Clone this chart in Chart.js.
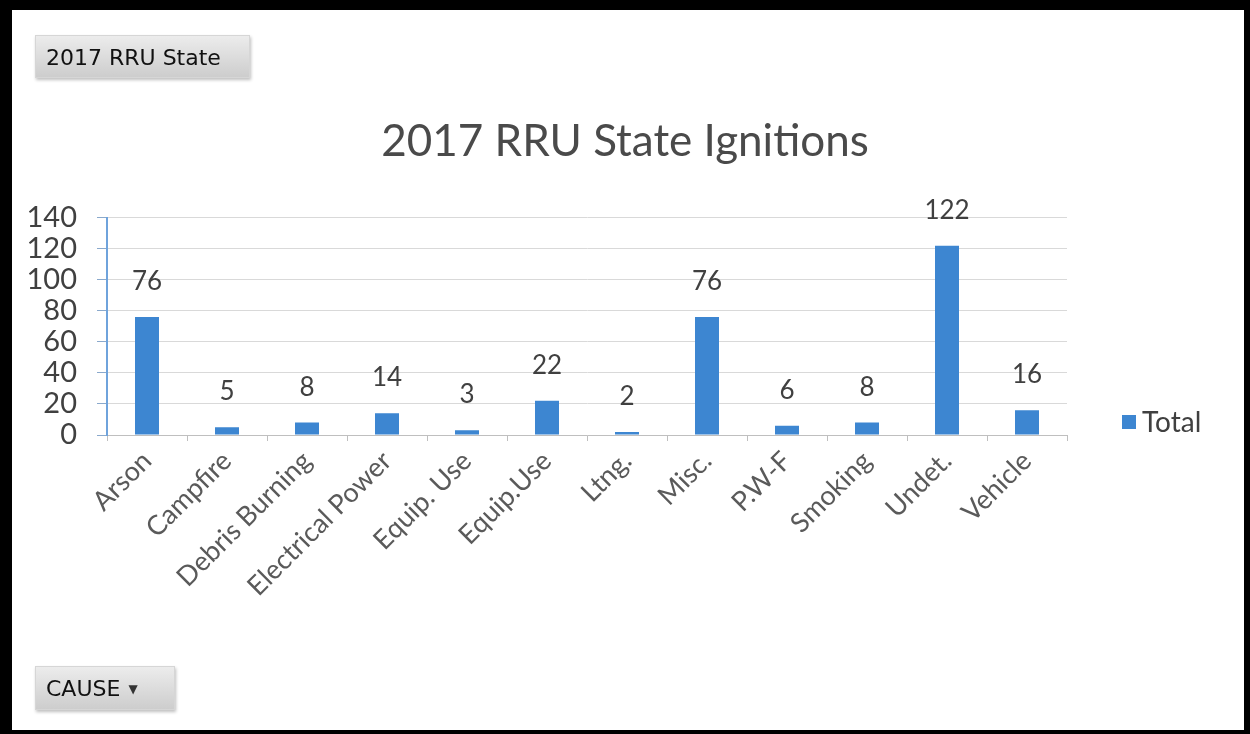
<!DOCTYPE html>
<html lang="en">
<head>
    <meta charset="UTF-8">
    <title>2017 RRU State Ignitions</title>
    <script src="https://cdn.jsdelivr.net/npm/chart.js"></script>
    <style>
        html, body {
            margin: 0;
            padding: 0;
            background: #ffffff;
        }
        .frame {
            position: absolute;
            left: 0;
            top: 0;
            width: 1250px;
            height: 734px;
            box-sizing: border-box;
            border-style: solid;
            border-color: #000;
            border-width: 10px 6px 4px 12px;
            background: #ffffff;
        }
        .chart-box {
            position: absolute;
            left: 0;
            top: 0;
            width: 1250px;
            height: 734px;
        }
        /* botones del pivot */
        .pivot-btn {
            position: absolute;
            box-sizing: border-box;
            background: linear-gradient(#ececec, #cdcdcd);
            border: 1px solid #d6d6d6;
            box-shadow: 1px 2px 3px rgba(0,0,0,0.25);
            font-family: 'DejaVu Sans', sans-serif;
            font-size: 22px;
            color: #111;
            padding-left: 10px;
        }
        #btnState {
            left: 35px;
            top: 35px;
            width: 215px;
            height: 43px;
            line-height: 43px;
        }
        #btnCause {
            left: 35px;
            top: 666px;
            width: 140px;
            height: 44px;
            line-height: 44px;
        }
        #btnCause .arrow {
            font-size: 12px;
            margin-left: 8px;
            vertical-align: 3px;
            color: #333;
        }
    </style>
</head>
<body>
    <div class="frame"></div>
    <div class="chart-box">
        <canvas id="ignitionsChart"></canvas>
    </div>
    <div class="pivot-btn" id="btnState">2017 RRU State</div>
    <div class="pivot-btn" id="btnCause">CAUSE<span class="arrow">&#9660;</span></div>

    <script>
        // Datos del grafico
        const causes = ['Arson', 'Campfire', 'Debris Burning', 'Electrical Power', 'Equip. Use',
                        'Equip.Use', 'Ltng.', 'Misc.', 'P.W-F', 'Smoking', 'Undet.', 'Vehicle'];
        const totals = [76, 5, 8, 14, 3, 22, 2, 76, 6, 8, 122, 16];
        const yTicks = [0, 20, 40, 60, 80, 100, 120, 140];

        const barColor = '#3d86d1';

        // etiquetas de valor encima de cada barra
        const valueLabels = {
            id: 'valueLabels',
            afterDatasetsDraw(chart) {
                const ctx = chart.ctx;
                const meta = chart.getDatasetMeta(0);
                ctx.save();
                ctx.font = '26px Lato, sans-serif';
                ctx.fillStyle = '#404040';
                ctx.textAlign = 'center';
                ctx.textBaseline = 'alphabetic';
                meta.data.forEach((bar, i) => {
                    ctx.fillText(String(totals[i]), bar.x, bar.y - 27);
                });
                ctx.restore();
            }
        };

        // leyenda a la derecha, a la altura del eje
        const sideLegend = {
            id: 'sideLegend',
            afterDraw(chart) {
                const ctx = chart.ctx;
                const area = chart.chartArea;
                const ds = chart.data.datasets[0];
                const x = area.right + 55;
                const y = area.bottom - 13;
                ctx.save();
                ctx.fillStyle = ds.backgroundColor;
                ctx.fillRect(x, y - 7, 14, 14);
                ctx.font = '28px Lato, sans-serif';
                ctx.fillStyle = '#404040';
                ctx.textAlign = 'left';
                ctx.textBaseline = 'middle';
                ctx.fillText(ds.label, x + 20, y + 1);
                ctx.restore();
            }
        };

        const ctxChart = document.getElementById('ignitionsChart').getContext('2d');
        new Chart(ctxChart, {
            type: 'bar',
            data: {
                labels: causes,
                datasets: [{
                    label: 'Total',
                    data: totals,
                    backgroundColor: barColor,
                    borderWidth: 0,
                    barPercentage: 0.3,
                    categoryPercentage: 1
                }]
            },
            options: {
                responsive: true,
                maintainAspectRatio: false,
                animation: false,
                layout: {
                    padding: { left: 20, right: 20, top: 10, bottom: 10 }
                },
                plugins: {
                    title: {
                        display: true,
                        text: '2017 RRU State Ignitions',
                        color: '#4a4a4a',
                        font: { family: 'Lato, sans-serif', size: 44, weight: 'normal' },
                        padding: { top: 105, bottom: 50 }
                    },
                    legend: { display: false },
                    tooltip: { enabled: false }
                },
                scales: {
                    x: {
                        grid: {
                            drawOnChartArea: false,
                            offset: true,
                            tickLength: 6,
                            color: '#bfbfbf'
                        },
                        border: { color: '#bfbfbf' },
                        ticks: {
                            color: '#5a5a5a',
                            font: { family: 'Lato, sans-serif', size: 27 },
                            maxRotation: 45,
                            minRotation: 45,
                            autoSkip: false,
                            padding: 4
                        },
                        afterFit(scale) {
                            scale.height = 289;
                        }
                    },
                    y: {
                        min: 0,
                        max: 140,
                        afterBuildTicks(scale) {
                            scale.ticks = yTicks.map(v => ({ value: v }));
                        },
                        grid: {
                            color: '#d9d9d9',
                            tickLength: 10,
                            tickColor: '#8aa9cc'
                        },
                        border: { color: '#6fa3dc', width: 2 },
                        ticks: {
                            color: '#404040',
                            font: { family: 'Lato, sans-serif', size: 29, lineHeight: 1 },
                            autoSkip: false,
                            padding: 20
                        },
                        afterFit(scale) {
                            scale.width = 87;
                        }
                    },
                    // eje vacio: reserva el espacio de la leyenda a la derecha
                    yLegendSpace: {
                        position: 'right',
                        grid: { display: false },
                        border: { display: false },
                        ticks: { display: false },
                        afterFit(scale) {
                            scale.width = 163;
                        }
                    }
                }
            },
            plugins: [valueLabels, sideLegend]
        });
    </script>
</body>
</html>
